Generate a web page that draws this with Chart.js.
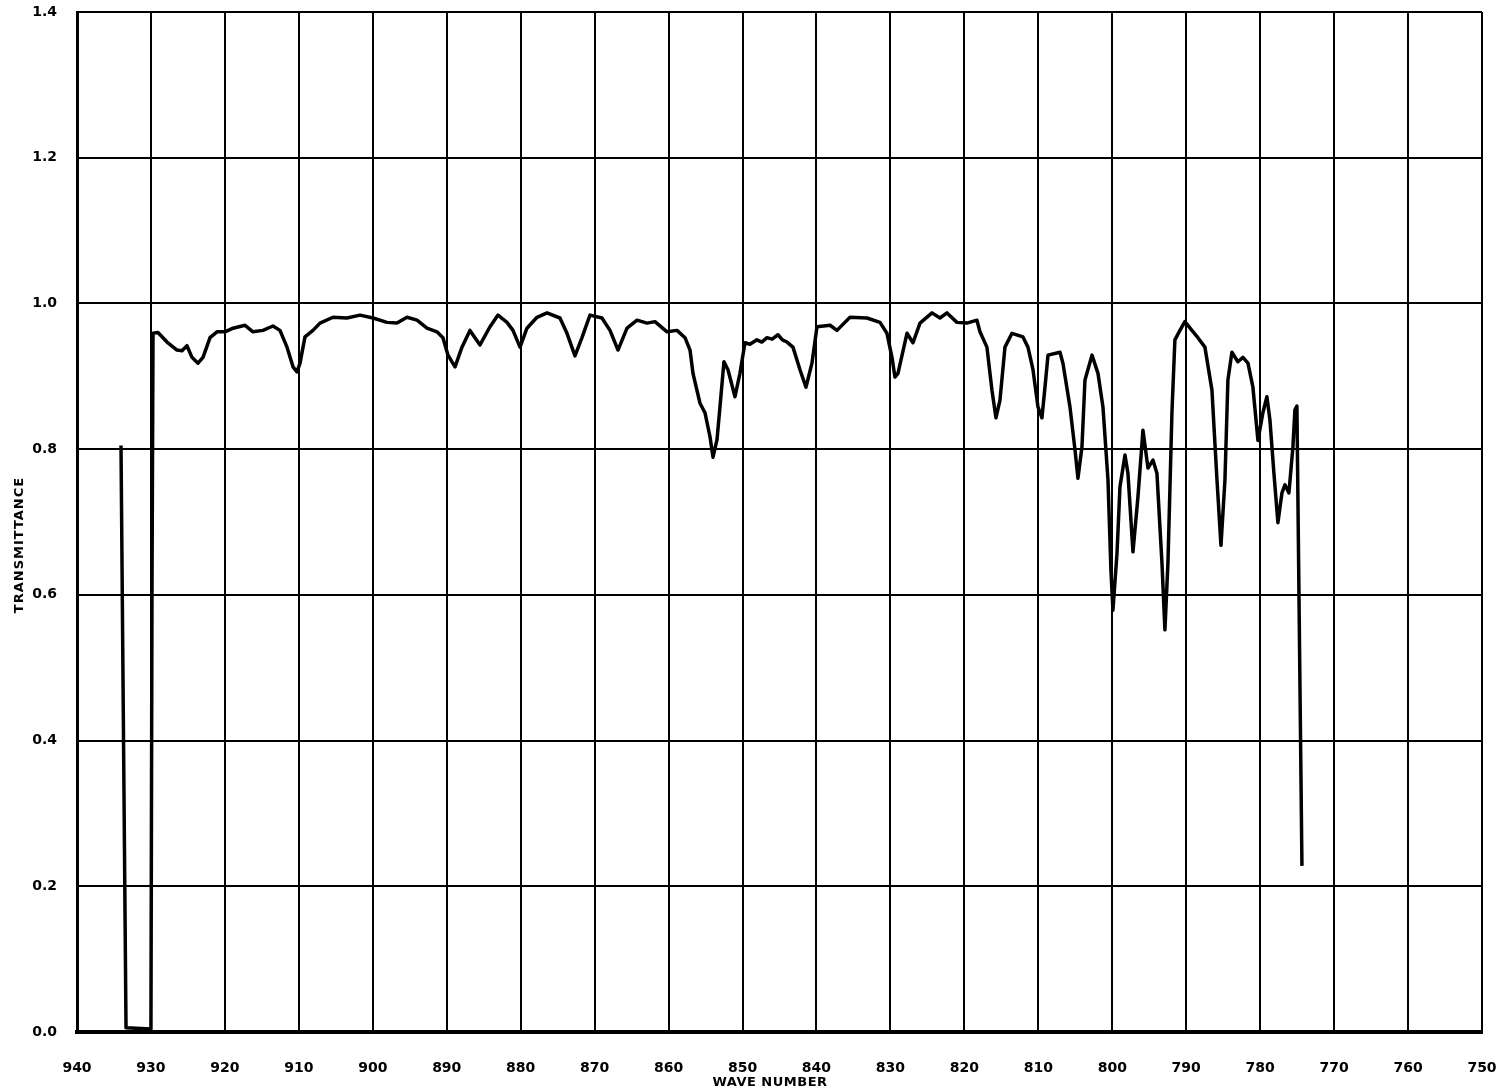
<!DOCTYPE html>
<html>
<head>
<meta charset="utf-8">
<title>Transmittance spectrum</title>
<script src="https://cdn.jsdelivr.net/npm/chart.js@4.4.1/dist/chart.umd.min.js"></script>
<style>
    html, body { margin: 0; padding: 0; background: #fff; }
    #wrap { width: 1505px; height: 1092px; position: relative; }
</style>
</head>
<body>
<div id="wrap"><canvas id="spectrumChart"></canvas></div>
<script>
// Espectro de transmitancia (numero de onda decreciente)
const waveNumbers = [
    934.05, 933.37, 930.0, 929.86, 929.72, 929.05, 927.83, 926.48, 925.80, 925.13,
    924.45, 923.64, 922.96, 922.01, 921.07, 919.99, 918.90, 917.28, 916.20, 914.85,
    913.50, 912.55, 911.60, 910.79, 910.25, 909.84, 909.17, 908.09, 907.14, 905.38,
    903.49, 901.73, 899.97, 898.08, 896.73, 895.37, 894.02, 892.67, 891.32, 890.51,
    889.83, 888.88, 887.94, 886.86, 885.50, 884.15, 883.07, 881.85, 881.04, 880.09,
    879.15, 877.80, 876.44, 874.69, 873.74, 872.66, 871.71, 870.63, 869.01, 867.92,
    866.84, 865.62, 864.27, 862.92, 861.84, 860.21, 858.86, 857.78, 857.10, 856.70,
    855.75, 855.08, 854.40, 853.99, 853.45, 853.05, 852.51, 851.97, 851.02, 850.35,
    849.67, 849.00, 848.05, 847.40, 846.69, 846.00, 845.21, 844.60, 843.99, 843.18,
    842.23, 841.42, 840.61, 839.93, 838.17, 837.23, 835.47, 833.17, 831.41, 830.47,
    829.79, 829.39, 828.98, 827.76, 826.95, 826.00, 824.38, 823.30, 822.35, 821.00,
    819.65, 818.30, 817.89, 816.95, 816.27, 815.73, 815.19, 814.51, 813.56, 812.08,
    811.40, 810.72, 810.05, 809.51, 809.10, 808.69, 807.07, 806.67, 805.72, 805.04,
    804.64, 804.10, 803.69, 802.74, 801.93, 801.26, 800.58, 800.18, 799.91, 799.36,
    798.96, 798.28, 797.88, 797.20, 796.53, 795.85, 795.17, 794.50, 793.96, 793.28,
    792.88, 792.47, 791.93, 791.53, 790.85, 790.18, 789.23, 788.42, 787.47, 786.52,
    785.84, 785.30, 784.76, 784.36, 783.82, 783.01, 782.33, 781.65, 780.98, 780.30,
    779.63, 779.09, 778.68, 778.14, 777.60, 777.05, 776.65, 776.11, 775.57, 775.30,
    775.03, 774.35
];

const transmittance = [
    0.805, 0.006, 0.004, 0.600, 0.959, 0.960, 0.947, 0.936, 0.935, 0.942,
    0.926, 0.918, 0.926, 0.953, 0.961, 0.961, 0.966, 0.970, 0.961, 0.963,
    0.969, 0.963, 0.940, 0.913, 0.906, 0.918, 0.954, 0.963, 0.973, 0.981,
    0.980, 0.984, 0.980, 0.974, 0.973, 0.981, 0.977, 0.966, 0.961, 0.953,
    0.929, 0.913, 0.940, 0.963, 0.943, 0.968, 0.984, 0.974, 0.963, 0.940,
    0.966, 0.981, 0.987, 0.980, 0.959, 0.928, 0.953, 0.984, 0.980, 0.963,
    0.936, 0.966, 0.977, 0.973, 0.975, 0.961, 0.963, 0.953, 0.936, 0.904,
    0.863, 0.850, 0.817, 0.789, 0.813, 0.858, 0.920, 0.909, 0.872, 0.904,
    0.946, 0.944, 0.950, 0.947, 0.953, 0.951, 0.957, 0.950, 0.947, 0.940,
    0.909, 0.885, 0.918, 0.968, 0.970, 0.963, 0.981, 0.980, 0.974, 0.959,
    0.926, 0.899, 0.904, 0.959, 0.946, 0.973, 0.987, 0.980, 0.987, 0.974,
    0.973, 0.977, 0.961, 0.940, 0.881, 0.843, 0.867, 0.940, 0.959, 0.954,
    0.940, 0.909, 0.858, 0.843, 0.885, 0.929, 0.933, 0.918, 0.858, 0.799,
    0.760, 0.803, 0.895, 0.929, 0.904, 0.858, 0.758, 0.634, 0.579, 0.657,
    0.748, 0.792, 0.767, 0.659, 0.734, 0.826, 0.774, 0.785, 0.767, 0.644,
    0.552, 0.644, 0.850, 0.950, 0.963, 0.975, 0.963, 0.953, 0.940, 0.881,
    0.758, 0.668, 0.758, 0.895, 0.933, 0.920, 0.926, 0.918, 0.885, 0.812,
    0.850, 0.872, 0.840, 0.767, 0.699, 0.740, 0.751, 0.740, 0.803, 0.854,
    0.859, 0.228
];

const xTicks = [940, 930, 920, 910, 900, 890, 880, 870, 860, 850, 840, 830, 820, 810, 800, 790, 780, 770, 760, 750];
const yTicks = [0.0, 0.2, 0.4, 0.6, 0.8, 1.0, 1.2, 1.4];

document.addEventListener('DOMContentLoaded', function() {
    const fontFamily = '"DejaVu Sans", sans-serif';

    // Titulos de ejes dibujados a mano para ubicarlos como en el original
    const axisTitles = {
        id: 'axisTitles',
        afterDraw(chart) {
            const ctx = chart.ctx;
            ctx.save();
            ctx.fillStyle = '#000';
            ctx.textAlign = 'center';
            ctx.textBaseline = 'middle';
            ctx.font = 'bold 13px ' + fontFamily;
            ctx.letterSpacing = '0.5px';
            ctx.fillText('WAVE NUMBER', 770, 1083);
            ctx.translate(20, 545);
            ctx.rotate(-Math.PI / 2);
            ctx.letterSpacing = '1px';
            ctx.fillText('TRANSMITTANCE', 0, 0);
            ctx.restore();
        }
    };

    // Quitar el relleno extra que Chart.js reserva para las etiquetas
    function noLabelPadding(scale) {
        scale.paddingTop = 0;
        scale.paddingBottom = 0;
        scale.paddingLeft = 0;
        scale.paddingRight = 0;
    }

    const points = waveNumbers.map(function(w, i) {
        return { x: w, y: transmittance[i] };
    });

    new Chart(document.getElementById('spectrumChart'), {
        type: 'line',
        data: {
            datasets: [{
                label: 'Transmittance',
                data: points,
                borderColor: '#000',
                borderWidth: 3.5,
                borderJoinStyle: 'round',
                pointRadius: 0,
                tension: 0,
                fill: false
            }]
        },
        options: {
            responsive: true,
            maintainAspectRatio: false,
            animation: false,
            layout: {
                padding: { left: 0, right: 23, top: 12, bottom: 0 }
            },
            plugins: {
                legend: { display: false },
                tooltip: { enabled: false }
            },
            scales: {
                x: {
                    type: 'linear',
                    reverse: true,
                    min: 750,
                    max: 940,
                    afterBuildTicks: function(scale) {
                        scale.ticks = xTicks.map(function(v) { return { value: v }; });
                    },
                    afterFit: function(scale) {
                        scale.height = 60;
                        noLabelPadding(scale);
                    },
                    ticks: {
                        color: '#000',
                        padding: 28,
                        maxRotation: 0,
                        autoSkip: false,
                        font: { family: fontFamily, size: 14, weight: 'bold' },
                        callback: function(value) { return value.toFixed(0); }
                    },
                    grid: {
                        color: '#000',
                        lineWidth: 2,
                        drawTicks: false
                    },
                    border: { color: '#000', width: 4 }
                },
                y: {
                    min: 0,
                    max: 1.4,
                    afterBuildTicks: function(scale) {
                        scale.ticks = yTicks.map(function(v) { return { value: v }; });
                    },
                    afterFit: function(scale) {
                        scale.width = 77;
                        noLabelPadding(scale);
                    },
                    ticks: {
                        color: '#000',
                        padding: 20,
                        autoSkip: false,
                        font: { family: fontFamily, size: 14, weight: 'bold' },
                        callback: function(value) { return value.toFixed(1); }
                    },
                    grid: {
                        color: '#000',
                        lineWidth: 2,
                        drawTicks: false
                    },
                    border: { color: '#000', width: 3 }
                }
            }
        },
        plugins: [axisTitles]
    });
});
</script>
</body>
</html>
